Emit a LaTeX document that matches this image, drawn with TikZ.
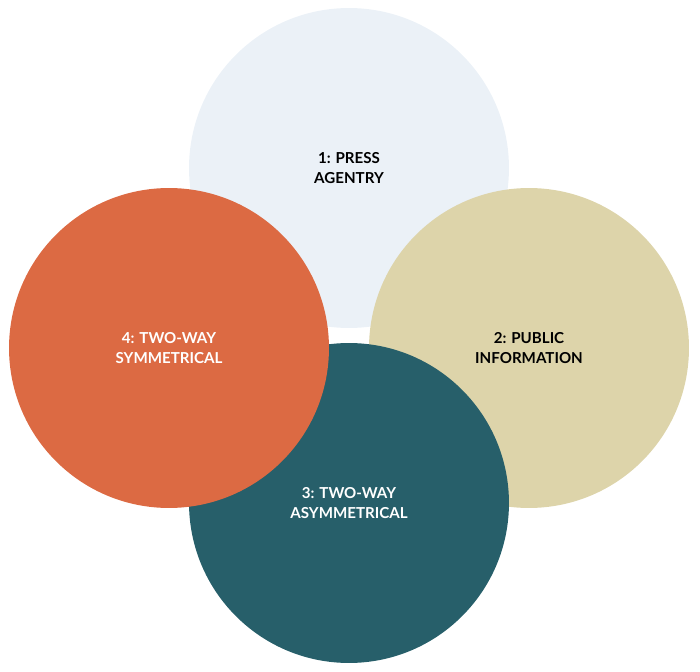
\documentclass[tikz,border=0pt]{standalone}
\usepackage{fontspec}
\setmainfont{Lato}
\definecolor{agentry}{HTML}{EBF1F7}
\definecolor{publicinfo}{HTML}{DDD4AA}
\definecolor{asym}{HTML}{275F6A}
\definecolor{sym}{HTML}{DC6A43}
\begin{document}
\begin{tikzpicture}[x=0.02cm,y=-0.02cm]
  \tikzstyle{model}=[circle,minimum size=6.4cm,inner sep=0pt,align=center,
                     font=\fontsize{8.6}{11}\selectfont\bfseries]
  \useasboundingbox (0,0) rectangle (700,672);
  \node [model,fill=agentry,text=black] (press) at (349,168) {1: PRESS\\AGENTRY};
  \node [model,fill=publicinfo,text=black] (public) at (529,348) {2: PUBLIC\\INFORMATION};
  \node [model,fill=asym,text=white] (asymm) at (349,503) {};
  \node [model,fill=sym,text=white] (symm) at (169,348) {4: TWO-WAY\\SYMMETRICAL};
  \node [font=\fontsize{8.6}{11}\selectfont\bfseries,text=white,align=center] (asymlabel) at (349,503) {3: TWO-WAY\\ASYMMETRICAL};
\end{tikzpicture}
\end{document}
